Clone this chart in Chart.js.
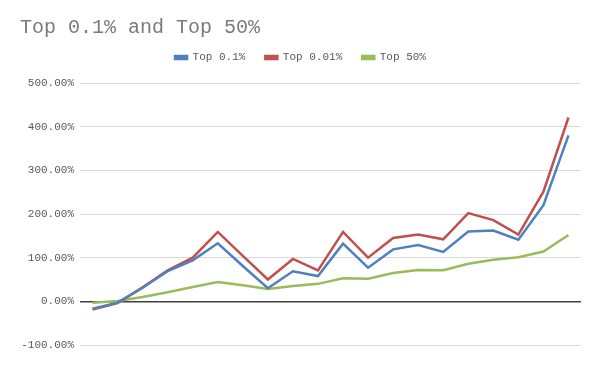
<!DOCTYPE html>
<html>
<head>
<meta charset="utf-8">
<script src="https://cdn.jsdelivr.net/npm/chart.js@4"></script>
<style>
  html, body { margin: 0; padding: 0; background: #fff; }
  #wrap { width: 600px; height: 371px; }
</style>
</head>
<body>
<div id="wrap"><canvas id="chart"></canvas></div>
<script>
// ---------------------------------------------------------------
//  Data (percent growth)
// ---------------------------------------------------------------
const periods = ["1", "2", "3", "4", "5", "6", "7", "8", "9", "10",
                 "11", "12", "13", "14", "15", "16", "17", "18", "19", "20"];

const top01  = [-17, -3, 31, 69, 94, 133, 81, 30, 69, 58,
                132, 77, 119, 129, 113, 160, 162, 141, 220, 380];
const top001 = [-19, -4, 32, 71, 100, 159, 104, 50, 97, 71,
                159, 100, 145, 153, 142, 202, 186, 153, 251, 421];
const top50  = [-3, 1, 10, 21, 33, 44, 37, 28, 35, 40,
                53, 52, 65, 72, 71, 86, 95, 101, 114, 152];

const yTicks = [-100, 0, 100, 200, 300, 400, 500];

const MONO = "'Liberation Mono', 'DejaVu Sans Mono', monospace";

function series(label, data, color) {
  return {
    label, data,
    borderColor: color,
    backgroundColor: color,
    borderWidth: 2.5,
    pointRadius: 0,
    tension: 0,
  };
}

// tweak the legend box height (items are spread wider than the default)
const legendGap = {
  id: "legendGap",
  beforeInit(chart) {
    const fit = chart.legend.fit;
    chart.legend.fit = function () {
      fit.call(this);
      this.height += 10;
    };
  },
};

new Chart(document.getElementById("chart"), {
  type: "line",
  data: {
    labels: periods,
    datasets: [
      series("Top 0.1%", top01, "#4f81bd"),
      series("Top 0.01%", top001, "#c0504d"),
      series("Top 50%", top50, "#9bbb59"),
    ],
  },
  options: {
    responsive: true,
    maintainAspectRatio: false,
    animation: false,
    layout: { padding: { left: 20, right: 19, top: 16, bottom: 26 } },
    scales: {
      x: {
        display: false,
        offset: true,
      },
      y: {
        min: -100,
        max: 500,
        afterBuildTicks: axis => { axis.ticks = yTicks.map(v => ({ value: v })); },
        afterFit: axis => { axis.width = 60; },
        border: { display: false },
        grid: {
          drawTicks: false,
          color: c => (c.tick.value === 0 ? "#404040" : "#d9d9d9"),
          lineWidth: c => (c.tick.value === 0 ? 1.5 : 1),
        },
        ticks: {
          padding: 6,
          color: "#595959",
          font: { family: MONO, size: 11 },
          callback: v => v.toFixed(2) + "%",
        },
      },
    },
    plugins: {
      title: {
        display: true,
        text: "Top 0.1% and Top 50%",
        align: "start",
        color: "#7a7a7a",
        font: { family: MONO, size: 20, weight: "normal" },
        padding: { top: 0, bottom: -8 },
      },
      legend: {
        position: "top",
        labels: {
          boxWidth: 12,
          boxHeight: 3,
          color: "#595959",
          font: { family: MONO, size: 11 },
          padding: 20,
        },
      },
      tooltip: { enabled: false },
    },
  },
  plugins: [legendGap],
});
</script>
</body>
</html>
